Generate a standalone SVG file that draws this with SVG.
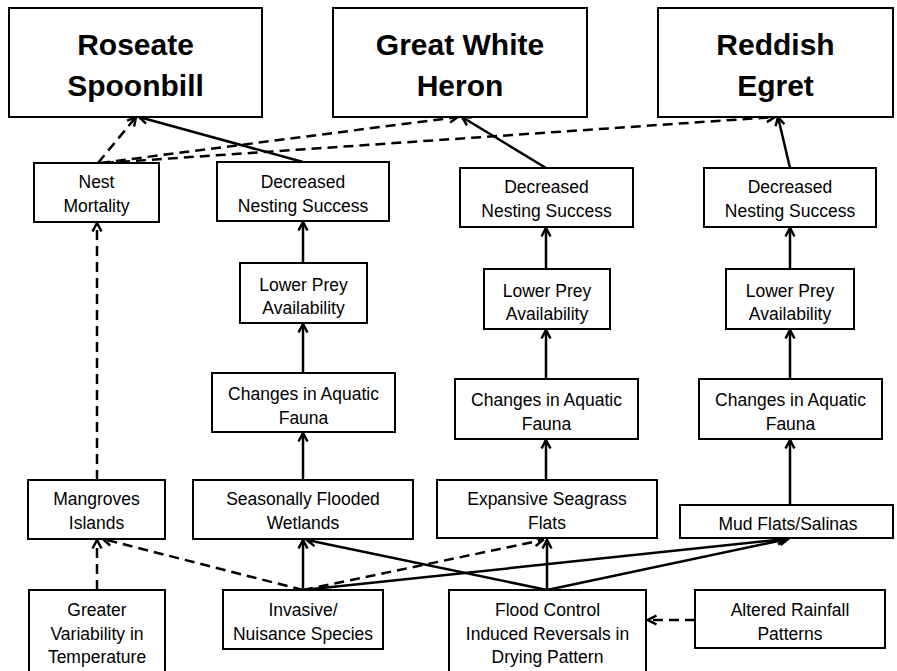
<svg xmlns="http://www.w3.org/2000/svg" width="897" height="671" viewBox="0 0 897 671">
<style>
.box{fill:#fff;stroke:#000;stroke-width:2}
.t{font-family:"Liberation Sans",Arial,sans-serif;font-size:17.5px;text-anchor:middle;fill:#000}
.tb{font-family:"Liberation Sans",Arial,sans-serif;font-size:30px;font-weight:bold;text-anchor:middle;fill:#000}
.c{fill:none;stroke:#000;stroke-width:2.5;marker-end:url(#arr)}
.d{stroke-dasharray:10 6}
</style>
<defs>
<marker id="arr" viewBox="0 0 12 12" markerWidth="12" markerHeight="12" refX="10.5" refY="6" orient="auto" markerUnits="userSpaceOnUse">
<path d="M2,1.5 L10.5,6 L2,10.5" fill="none" stroke="#000" stroke-width="2.5" stroke-dasharray="none"/>
</marker>
</defs>
<rect width="897" height="671" fill="#fff"/>
<g id="connectors">
<path class="c d" d="M98,163 L136,117"/>
<path class="c" d="M303,162 L139,117"/>
<path class="c d" d="M100,163 L458,117"/>
<path class="c d" d="M104,163 L775,117"/>
<path class="c" d="M546,168 L462,117"/>
<path class="c" d="M790,168 L778,117"/>
<path class="c" d="M303,263 L303,222"/>
<path class="c" d="M546,269 L546,228"/>
<path class="c" d="M790,269 L790,228"/>
<path class="c" d="M303,373 L303,324"/>
<path class="c" d="M546,379 L546,330"/>
<path class="c" d="M790,379 L790,330"/>
<path class="c" d="M303,480 L303,433"/>
<path class="c" d="M546,480 L546,440"/>
<path class="c" d="M790,505 L790,440"/>
<path class="c d" d="M97,480 L97,223"/>
<path class="c d" d="M97,590 L97,540"/>
<path class="c d" d="M303,590 L103,539"/>
<path class="c" d="M303,590 L303,540"/>
<path class="c d" d="M303,590 L543,540"/>
<path class="c" d="M303,590 L786,539"/>
<path class="c" d="M547,590 L307,540"/>
<path class="c" d="M547,590 L547,540"/>
<path class="c" d="M547,590 L788,539"/>
<path class="c d" d="M695,620 L648,620"/>
</g>
<g id="roseate-spoonbill"><rect class="box" x="9" y="8" width="253" height="109"/><text class="tb" x="135.5" y="55">Roseate</text><text class="tb" x="135.5" y="96">Spoonbill</text></g>
<g id="great-white-heron"><rect class="box" x="333" y="8" width="254" height="109"/><text class="tb" x="460" y="55">Great White</text><text class="tb" x="460" y="96">Heron</text></g>
<g id="reddish-egret"><rect class="box" x="658" y="8" width="235" height="109"/><text class="tb" x="775.5" y="55">Reddish</text><text class="tb" x="775.5" y="96">Egret</text></g>
<g id="nest-mortality"><rect class="box" x="34" y="163" width="125" height="59"/><text class="t" x="96.5" y="188">Nest</text><text class="t" x="96.5" y="212">Mortality</text></g>
<g id="decreased-1"><rect class="box" x="217" y="162" width="172" height="59"/><text class="t" x="303" y="188">Decreased</text><text class="t" x="303" y="212">Nesting Success</text></g>
<g id="decreased-2"><rect class="box" x="460" y="168" width="173" height="59"/><text class="t" x="546.5" y="193">Decreased</text><text class="t" x="546.5" y="217">Nesting Success</text></g>
<g id="decreased-3"><rect class="box" x="704" y="168" width="172" height="59"/><text class="t" x="790" y="193">Decreased</text><text class="t" x="790" y="217">Nesting Success</text></g>
<g id="lower-prey-1"><rect class="box" x="240" y="263" width="127" height="60"/><text class="t" x="303.5" y="291">Lower Prey</text><text class="t" x="303.5" y="314">Availability</text></g>
<g id="lower-prey-2"><rect class="box" x="484" y="269" width="126" height="60"/><text class="t" x="547" y="297">Lower Prey</text><text class="t" x="547" y="320">Availability</text></g>
<g id="lower-prey-3"><rect class="box" x="726" y="269" width="128" height="60"/><text class="t" x="790" y="297">Lower Prey</text><text class="t" x="790" y="320">Availability</text></g>
<g id="changes-1"><rect class="box" x="212" y="373" width="183" height="59"/><text class="t" x="303.5" y="400">Changes in Aquatic</text><text class="t" x="303.5" y="424">Fauna</text></g>
<g id="changes-2"><rect class="box" x="455" y="379" width="183" height="60"/><text class="t" x="546.5" y="406">Changes in Aquatic</text><text class="t" x="546.5" y="430">Fauna</text></g>
<g id="changes-3"><rect class="box" x="699" y="379" width="183" height="60"/><text class="t" x="790.5" y="406">Changes in Aquatic</text><text class="t" x="790.5" y="430">Fauna</text></g>
<g id="mangroves"><rect class="box" x="28" y="480" width="137" height="59"/><text class="t" x="96.5" y="505">Mangroves</text><text class="t" x="96.5" y="529">Islands</text></g>
<g id="seasonally-flooded"><rect class="box" x="193" y="480" width="220" height="59"/><text class="t" x="303" y="505">Seasonally Flooded</text><text class="t" x="303" y="529">Wetlands</text></g>
<g id="expansive-seagrass"><rect class="box" x="437" y="480" width="220" height="58"/><text class="t" x="547" y="505">Expansive Seagrass</text><text class="t" x="547" y="529">Flats</text></g>
<g id="mud-flats"><rect class="box" x="680" y="505" width="213" height="33"/><text class="t" x="788" y="530">Mud Flats/Salinas</text></g>
<g id="greater-variability"><rect class="box" x="29" y="590" width="136" height="90"/><text class="t" x="97" y="616">Greater</text><text class="t" x="97" y="640">Variability in</text><text class="t" x="97" y="663">Temperature</text></g>
<g id="invasive"><rect class="box" x="223" y="590" width="160" height="59"/><text class="t" x="303" y="616">Invasive/</text><text class="t" x="303" y="640">Nuisance Species</text></g>
<g id="flood-control"><rect class="box" x="449" y="590" width="197" height="90"/><text class="t" x="547.5" y="616">Flood Control</text><text class="t" x="547.5" y="640">Induced Reversals in</text><text class="t" x="547.5" y="663">Drying Pattern</text></g>
<g id="altered-rainfall"><rect class="box" x="695" y="590" width="190" height="58"/><text class="t" x="790" y="616">Altered Rainfall</text><text class="t" x="790" y="640">Patterns</text></g>
</svg>
